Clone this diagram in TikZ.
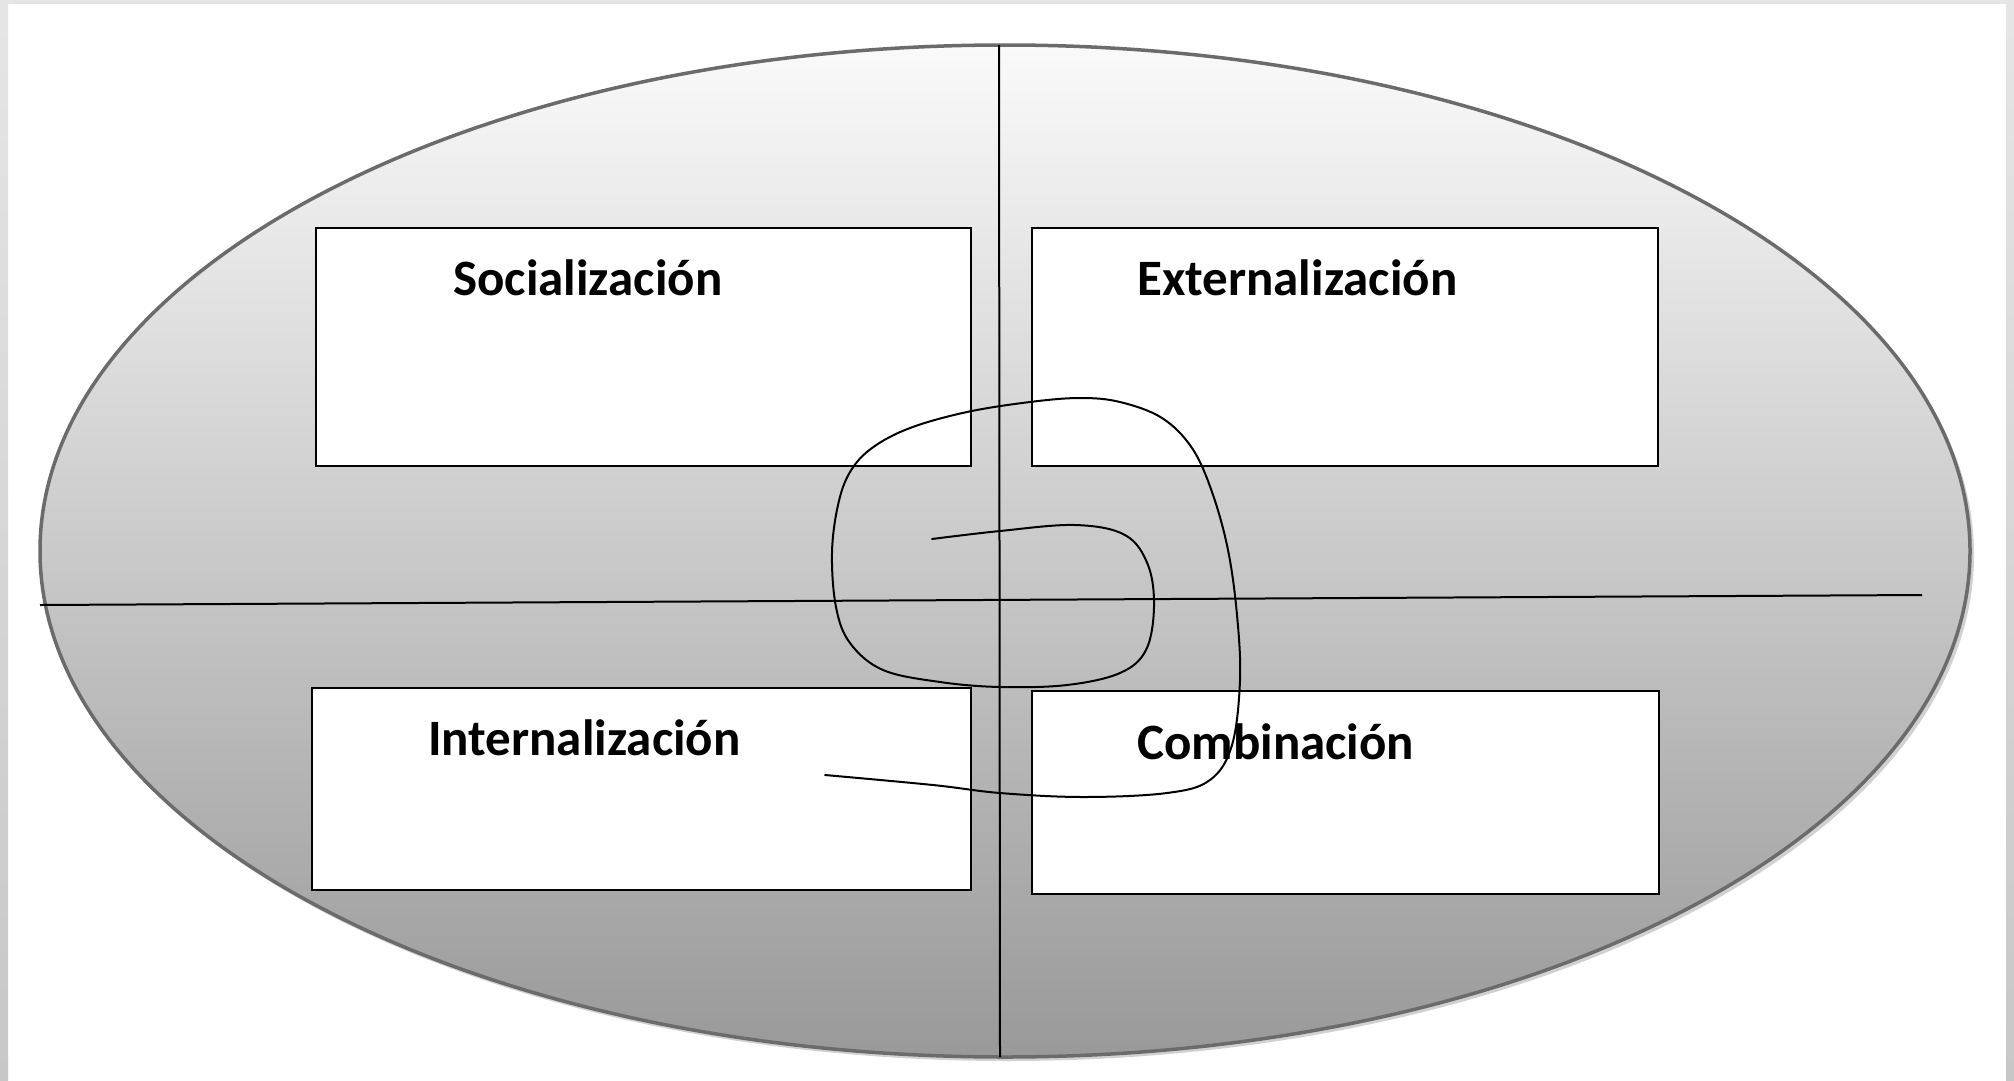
\documentclass[tikz,border=0pt]{standalone}
\usepackage{fontspec}
\setmainfont{Carlito}
\usetikzlibrary{shapes.geometric}
\begin{document}
\begin{tikzpicture}[x=1pt,y=-1pt,
  quad/.style={draw=black,line width=1.5pt,fill=white,rectangle,inner sep=0pt},
  qlabel/.style={font=\bfseries\fontsize{51}{60}\selectfont,inner sep=0pt,anchor=base west,text=black},
  axis/.style={draw=black,line width=2pt},
  spiralline/.style={draw=black,line width=2pt,line cap=round}]
\useasboundingbox (0,0) rectangle (2014,1080);
\fill[white] (0,0) rectangle (2014,1080);
\shade[top color=gray!20!white,bottom color=black!22!white] (0,0) rectangle (8,1080);
\shade[top color=gray!20!white,bottom color=black!22!white] (2006,0) rectangle (2014,1080);
\fill[gray!20!white] (0,0) rectangle (2014,4);
% shadow and ellipse
\fill[black!18] (1008,555) ellipse [x radius=966, y radius=506];
\node[ellipse,minimum width=1930pt,minimum height=1012pt,inner sep=0pt,
  top color=white!98!black,bottom color=white!60!black,draw=black!58,line width=3.5pt] (oval) at (1005,551) {};
% axes
\coordinate (vtop) at (999,45);
\coordinate (vbot) at (1000,1057);
\coordinate (hl) at (40,605);
\coordinate (hr) at (1922,595);
\draw[axis] (vtop) -- (vbot);
\draw[axis] (hl) -- (hr);
% boxes
\node[quad,minimum width=655pt,minimum height=238pt,anchor=north west] (soc) at (315,227) {};
\node[quad,minimum width=626pt,minimum height=238pt,anchor=north west] (ext) at (1031,227) {};
\node[quad,minimum width=659pt,minimum height=202pt,anchor=north west] (int) at (311,687) {};
\node[quad,minimum width=627pt,minimum height=203pt,anchor=north west] (com) at (1031,690) {};
% labels
\node[qlabel] (tsoc) at (453,295) {Socialización};
\node[qlabel] (text) at (1137,295) {Externalización};
\node[qlabel] (tint) at (428,755) {Internalización};
\node[qlabel] (tcom) at (1137,759) {Combinación};
% spiral
\draw[spiralline] plot[smooth,tension=0.6] coordinates {
(932,539) (1000,531) (1075,525) (1125,535) (1148,565) (1154,607) (1146,650) (1120,673) (1067,685) (1000,687) (940,682) (883,670) (850,643) (836,607) (832,553) (838,505) (850,472) (872,448) (910,428) (967,412) (1030,402) (1080,398) (1120,402) (1162,418) (1192,448) (1212,492) (1228,550) (1237,615) (1240,680) (1232,745) (1210,780) (1167,793) (1083,797) (1000,793) (933,785) (825,775)};
\end{tikzpicture}
\end{document}
